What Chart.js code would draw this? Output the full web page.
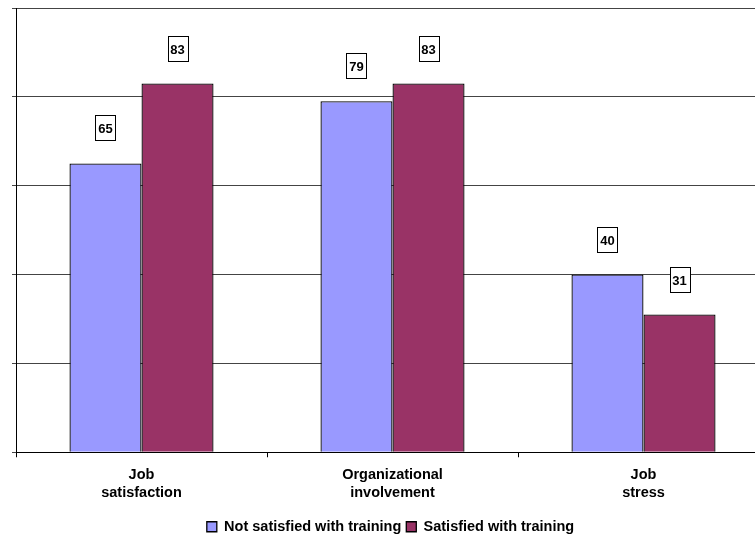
<!DOCTYPE html>
<html>
<head>
<meta charset="utf-8">
<script src="https://cdn.jsdelivr.net/npm/chart.js@4/dist/chart.umd.min.js"></script>
<style>
  html, body { margin: 0; padding: 0; background: #fff; overflow: hidden; }
  #wrap { width: 755px; height: 535px; overflow: hidden; position: relative; }
  #box { width: 785px; height: 550px; position: absolute; left: 0; top: 0; }
</style>
</head>
<body>
<div id="wrap"><div id="box"><canvas id="c"></canvas></div></div>
<script>
const categories = [["Job", "satisfaction"], ["Organizational", "involvement"], ["Job", "stress"]];
const notSatisfied = [65, 79, 40];
const satisfied = [83, 83, 31];
const seriesNames = ["Not satisfied with training", "Satisfied with training"];
const yTicks = [0, 20, 40, 60, 80, 100];

const FONT = '"Liberation Sans", Arial, sans-serif';

// boxed value labels floating above each bar
const valueBoxes = {
  id: 'valueBoxes',
  afterDatasetsDraw(chart) {
    const ctx = chart.ctx;
    ctx.save();
    ctx.font = 'bold 13px ' + FONT;
    ctx.textAlign = 'center';
    ctx.textBaseline = 'middle';
    chart.data.datasets.forEach((ds, di) => {
      chart.getDatasetMeta(di).data.forEach((bar, i) => {
        const txt = String(ds.data[i]);
        const w = Math.round(ctx.measureText(txt).width) + 6;
        const h = 25;
        const x = Math.round(bar.x - w / 2) + 0.5;
        const y = Math.round(bar.y - 23 - h) + 0.5;
        ctx.fillStyle = '#fff';
        ctx.fillRect(x, y, w, h);
        ctx.strokeStyle = '#000';
        ctx.lineWidth = 1;
        ctx.strokeRect(x, y, w, h);
        ctx.fillStyle = '#000';
        ctx.fillText(txt, bar.x, y + h / 2 + 1);
      });
    });
    ctx.restore();
  }
};

new Chart(document.getElementById('c'), {
  type: 'bar',
  data: {
    labels: categories,
    datasets: [
      { label: seriesNames[0], data: notSatisfied, backgroundColor: '#9999FF', borderColor: '#000', borderWidth: 1.3 },
      { label: seriesNames[1], data: satisfied, backgroundColor: '#993366', borderColor: '#000', borderWidth: 1.3 }
    ]
  },
  options: {
    responsive: true,
    maintainAspectRatio: false,
    animation: false,
    layout: { padding: { left: 12, right: 16, top: 8, bottom: 6 } },
    datasets: { bar: { categoryPercentage: 0.574, barPercentage: 1.0 } },
    plugins: {
      tooltip: { enabled: false },
      legend: {
        position: 'bottom',
        labels: {
          color: '#000',
          boxWidth: 10,
          boxHeight: 10,
          padding: 5,
          font: { family: FONT, size: 14.5, weight: 'bold' }
        }
      }
    },
    scales: {
      x: {
        grid: { display: true, drawOnChartArea: false, color: '#000', tickLength: 5, offset: true },
        border: { color: '#000', width: 1 },
        afterFit(scale) { scale.height += 3; },
        ticks: {
          color: '#000',
          padding: 9,
          maxRotation: 0,
          font: { family: FONT, size: 14.5, weight: 'bold', lineHeight: 1.25 }
        }
      },
      y: {
        min: yTicks[0],
        max: yTicks[yTicks.length - 1],
        afterBuildTicks(scale) { scale.ticks = yTicks.map(v => ({ value: v })); },
        grid: { color: '#444', tickLength: 4 },
        border: { color: '#000', width: 1 },
        ticks: { display: false }
      }
    }
  },
  plugins: [valueBoxes]
});
</script>
</body>
</html>
